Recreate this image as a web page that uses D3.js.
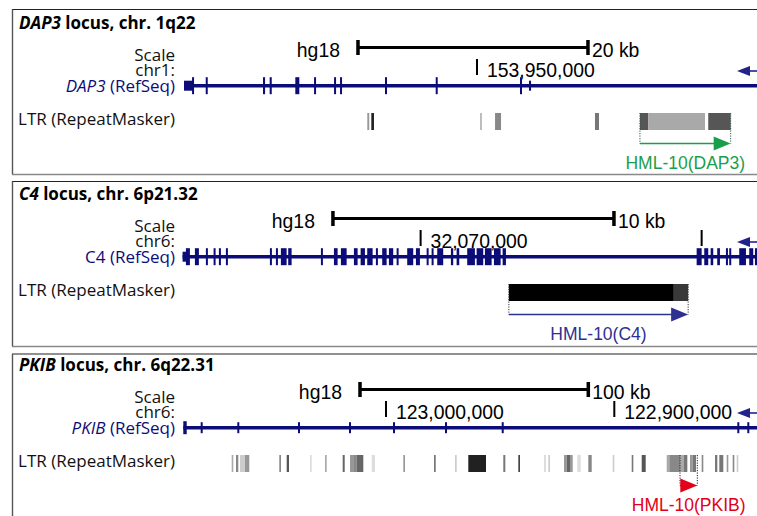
<!DOCTYPE html>
<html>
<head>
<meta charset="utf-8">
<title>HML-10 loci</title>
<script src="https://cdn.jsdelivr.net/npm/d3@7/dist/d3.min.js"></script>
<style>
  body { margin: 0; background: #fff; }
  svg { display: block; }
  .lbl { font-family: "Open Sans", sans-serif; font-size: 17px; fill: #111; }
  .ttl { font-family: "Open Sans", sans-serif; font-size: 17px; font-weight: 700; fill: #000; }
  .num { font-family: "Liberation Sans", Arial, sans-serif; font-size: 19.4px; fill: #000; }
  .hml { font-family: "Liberation Sans", Arial, sans-serif; font-size: 17.5px; }
</style>
</head>
<body>
<div id="chart-area"></div>
<script>
//////////////////////////////////////////////
// Data (genomic positions in kb, hg18) //////
//////////////////////////////////////////////
var loci = ["DAP3", "C4", "PKIB"];
var bands = ["1q22", "6p21.32", "6q22.31"];
var chroms = ["chr1", "chr6", "chr6"];
var italicGene = [true, false, true];

// visible window, left edge -> right edge of the track
var views = [[153924.52, 153974.35], [32061.58, 32081.97], [123088.48, 122837.50]];

var scaleBarKb = [20, 10, 100];
var scaleBarStart = [153939.65, 32066.88, 123011.39];

var posTicks = [[153950], [32070, 32080], [123000, 122900]];
var posLabels = [["153,950,000"], ["32,070,000", ""], ["123,000,000", "122,900,000"]];

var geneSpans = [[153924.52, 153990], [32061.53, 32090], [122800, 123088.79]];

var dap3Exons = [
  [153924.52, 153925.30, "utr"],
  [153925.22, 153925.39, "cds"],
  [153926.41, 153926.58, "cds"],
  [153931.39, 153931.57, "cds"],
  [153931.97, 153932.15, "cds"],
  [153934.20, 153934.55, "cds"],
  [153935.83, 153936.00, "cds"],
  [153937.57, 153937.74, "cds"],
  [153938.09, 153938.26, "cds"],
  [153942.00, 153942.17, "cds"],
  [153946.41, 153946.58, "cds"],
  [153953.74, 153953.91, "cds"],
  [153954.52, 153954.70, "utr"]
];

var c4Exons = [
  [32061.53, 32061.65, "utr"],
  [32061.648, 32061.790, "cds"], [32061.968, 32062.110, "cds"], [32062.359, 32062.420, "cds"],
  [32062.633, 32062.690, "cds"], [32062.822, 32062.883, "cds"], [32063.071, 32063.132, "cds"],
  [32064.637, 32064.698, "cds"], [32064.851, 32064.911, "cds"], [32065.028, 32065.231, "cds"],
  [32065.288, 32065.409, "cds"], [32066.452, 32066.512, "cds"], [32066.915, 32067.046, "cds"],
  [32067.164, 32067.367, "cds"], [32067.626, 32067.758, "cds"], [32067.865, 32068.018, "cds"],
  [32068.100, 32068.292, "cds"], [32068.409, 32068.470, "cds"], [32068.633, 32068.790, "cds"],
  [32068.872, 32069.025, "cds"], [32069.146, 32069.203, "cds"], [32069.523, 32069.737, "cds"],
  [32069.833, 32069.975, "cds"], [32070.214, 32070.270, "cds"], [32070.391, 32070.448, "cds"],
  [32070.591, 32070.804, "cds"], [32071.078, 32071.160, "cds"], [32071.281, 32071.374, "cds"],
  [32071.658, 32071.932, "cds"], [32071.993, 32072.228, "cds"], [32072.288, 32072.527, "cds"],
  [32072.609, 32072.847, "cds"], [32072.918, 32073.036, "cds"],
  [32079.822, 32080.000, "cds"], [32080.093, 32080.235, "cds"], [32080.320, 32080.413, "cds"],
  [32080.555, 32080.651, "cds"], [32080.865, 32080.911, "cds"], [32080.982, 32081.043, "cds"],
  [32081.338, 32081.577, "cds"], [32081.694, 32081.836, "cds"], [32081.897, 32082.100, "cds"]
];

var pkibExons = [
  [123087.30, 123088.79, "cds"],
  [123080.29, 123081.17, "utr"],
  [123064.26, 123065.13, "utr"],
  [123037.67, 123038.55, "utr"],
  [123015.33, 123016.21, "utr"],
  [122996.06, 122996.93, "utr"],
  [122973.28, 122974.16, "utr"],
  [122948.44, 122949.32, "utr"],
  [122845.25, 122846.12, "utr"],
  [122840.87, 122841.74, "utr"]
];

// RepeatMasker LTR hits: start, end, score (shade)
var dap3Ltr = [
  [153940.46, 153940.63, 360], [153940.81, 153941.04, 860],
  [153950.26, 153950.43, 210], [153951.57, 153952.09, 430],
  [153960.26, 153960.61, 500], [153964.17, 153964.90, 640],
  [153964.90, 153969.83, 290], [153970.11, 153972.06, 640]
];

var c4Ltr = [
  [32073.14, 32079.01, 1000], [32079.01, 32079.52, 760]
];

var pkibLtr = [
  [123066.89, 123067.59, 290], [123064.70, 123065.70, 430], [123061.76, 123063.95, 140],
  [123059.88, 123061.76, 360], [123045.99, 123046.74, 430], [123042.49, 123043.50, 640],
  [123032.54, 123033.29, 70],  [123025.97, 123026.72, 290], [123018.09, 123018.97, 570],
  [123014.02, 123015.77, 360], [123012.83, 123014.02, 430], [123009.94, 123012.83, 570],
  [123004.82, 123006.26, 70],  [122991.68, 122992.42, 360], [122978.23, 122978.98, 500],
  [122969.03, 122969.78, 140], [122956.20, 122963.95, 860], [122947.74, 122948.62, 500],
  [122941.31, 122942.05, 710], [122929.92, 122930.79, 70],  [122928.17, 122928.91, 140],
  [122920.85, 122922.03, 360], [122919.40, 122920.85, 570], [122918.22, 122919.40, 360],
  [122914.72, 122916.21, 70],  [122909.90, 122911.39, 430], [122900.00, 122900.70, 140],
  [122891.68, 122892.38, 500], [122886.25, 122888.00, 640], [122875.91, 122877.05, 290],
  [122871.22, 122875.91, 430], [122869.47, 122871.22, 290], [122868.02, 122869.47, 500],
  [122865.66, 122866.84, 360], [122864.21, 122865.66, 500], [122861.02, 122861.72, 430],
  [122854.88, 122855.89, 500], [122852.26, 122854.01, 500], [122850.07, 122850.77, 360],
  [122847.44, 122848.14, 430], [122845.69, 122846.39, 140]
];

var hmlSpans = [[153964.17, 153972.06], [32073.14, 32079.52], [122863.64, 122871.22]];
var hmlNames = ["HML-10(DAP3)", "HML-10(C4)", "HML-10(PKIB)"];

var exonsByLocus = [dap3Exons, c4Exons, pkibExons];
var ltrByLocus = [dap3Ltr, c4Ltr, pkibLtr];

//////////////////////////////////////////////
// Layout ////////////////////////////////////
//////////////////////////////////////////////
var W = 757, H = 516;
var trackRange = [184, 757];
var panelTop = [9.5, 181.5, 354];
var panelBottom = [174.5, 346.5, 530];
var panelDy = [0, 171, 342];
var exonH = [[17, 10], [17, 10], [13, 11]];
var hmlColors = ["#1b9e4b", "#2e3192", "#e2001a"];
var dotColors = ["#2c5a3c", "#333", "#222"];
var navy = "#0c0c78";

var shade = d3.scaleLinear().domain([0, 1000]).range(["#eeeeee", "#000000"]);

var svg = d3.select("#chart-area")
    .append("svg")
    .attr("width", W)
    .attr("height", H);

//////////////////////////////////////////////
// Drawing ///////////////////////////////////
//////////////////////////////////////////////
loci.forEach(function(name, i) {
    var top = panelTop[i];

    // panel frame
    svg.append("line")
        .attr("x1", 12).attr("x2", W).attr("y1", top).attr("y2", top)
        .attr("stroke", "#222").attr("stroke-width", 1.2);
    svg.append("line")
        .attr("x1", 12.5).attr("x2", 12.5).attr("y1", top).attr("y2", panelBottom[i])
        .attr("stroke", "#555").attr("stroke-width", 1.4);
    if (panelBottom[i] < H) {
        svg.append("line")
            .attr("x1", 12).attr("x2", W).attr("y1", panelBottom[i]).attr("y2", panelBottom[i])
            .attr("stroke", "#888").attr("stroke-width", 1.5);
    }

    var g = svg.append("g").attr("transform", "translate(0," + panelDy[i] + ")");
    var x = d3.scaleLinear().domain(views[i]).range(trackRange);
    var dir = views[i][1] > views[i][0] ? 1 : -1;

    // title
    var t = g.append("text").attr("class", "ttl").attr("x", 19).attr("y", 29);
    t.append("tspan").style("font-style", "italic").text(name);
    t.append("tspan").text(" locus, chr. " + bands[i]);

    // track labels
    g.append("text").attr("class", "lbl").attr("x", 175).attr("y", 60.5)
        .attr("text-anchor", "end").text("Scale");
    g.append("text").attr("class", "lbl").attr("x", 175).attr("y", 75.5)
        .attr("text-anchor", "end").text(chroms[i] + ":");
    var gl = g.append("text").attr("class", "lbl").attr("x", 175).attr("y", 91.5)
        .attr("text-anchor", "end").style("fill", navy);
    gl.append("tspan").style("font-style", italicGene[i] ? "italic" : "normal").text(name);
    gl.append("tspan").text(" (RefSeq)");
    g.append("text").attr("class", "lbl").attr("x", 175).attr("y", 124.5)
        .attr("text-anchor", "end").text("LTR (RepeatMasker)");

    // scale bar
    var sb0 = x(scaleBarStart[i]);
    var sb1 = x(scaleBarStart[i] + dir * scaleBarKb[i]);
    g.append("line").attr("x1", sb0).attr("x2", sb1).attr("y1", 47.5).attr("y2", 47.5)
        .attr("stroke", "#000").attr("stroke-width", 3);
    [sb0, sb1].forEach(function(sx) {
        g.append("rect").attr("x", sx - 1.75).attr("y", 40).attr("width", 3.5).attr("height", 15)
            .attr("fill", "#000");
    });
    g.append("text").attr("class", "num").attr("x", sb0 - 18).attr("y", 56.5)
        .attr("text-anchor", "end").text("hg18");
    g.append("text").attr("class", "num").attr("x", sb1 + 4).attr("y", 56.5)
        .text(scaleBarKb[i] + " kb");

    // chromosome position ticks
    posTicks[i].forEach(function(p, k) {
        var px = x(p);
        g.append("rect").attr("x", px - 1).attr("y", 59).attr("width", 2).attr("height", 16)
            .attr("fill", "#000");
        if (posLabels[i][k]) {
            g.append("text").attr("class", "num").attr("x", px + 10).attr("y", 77)
                .text(posLabels[i][k]);
        }
    });

    // gene model
    var geneY = 85.7;
    var gx = geneSpans[i].map(x);
    g.append("line")
        .attr("x1", d3.min(gx)).attr("x2", d3.max(gx))
        .attr("y1", geneY).attr("y2", geneY)
        .attr("stroke", navy).attr("stroke-width", 3.6);

    g.selectAll(".exon")
        .data(exonsByLocus[i])
        .enter().append("rect")
        .attr("class", "exon")
        .attr("x", function(d) { return Math.min(x(d[0]), x(d[1])); })
        .attr("width", function(d) { return Math.max(2, Math.abs(x(d[1]) - x(d[0]))); })
        .attr("y", function(d) { var h = d[2] === "cds" ? exonH[i][0] : exonH[i][1]; return geneY - h / 2; })
        .attr("height", function(d) { return d[2] === "cds" ? exonH[i][0] : exonH[i][1]; })
        .attr("fill", navy);

    // strand arrow at right edge
    var ay = 71;
    g.append("path")
        .attr("d", "M737," + ay + "L750," + (ay - 5) + "L750," + (ay + 5) + "Z")
        .attr("fill", "#22228c");
    g.append("line").attr("x1", 749).attr("x2", W).attr("y1", ay).attr("y2", ay)
        .attr("stroke", "#22228c").attr("stroke-width", 1.6);

    // LTR repeats
    g.selectAll(".ltr")
        .data(ltrByLocus[i])
        .enter().append("rect")
        .attr("class", "ltr")
        .attr("x", function(d) { return Math.min(x(d[0]), x(d[1])); })
        .attr("width", function(d) { return Math.max(1.6, Math.abs(x(d[1]) - x(d[0]))); })
        .attr("y", 113)
        .attr("height", 17)
        .attr("fill", function(d) { return shade(d[2]); });

    // HML-10 element annotation
    var hx = hmlSpans[i].map(x);
    var h0 = d3.min(hx), h1 = d3.max(hx);
    var arrowY = 143.5;
    [h0, h1].forEach(function(hxx) {
        g.append("line").attr("x1", hxx).attr("x2", hxx).attr("y1", 113).attr("y2", arrowY)
            .attr("stroke", dotColors[i]).attr("stroke-width", 1)
            .attr("stroke-dasharray", "1.2,1.3");
    });
    g.append("line").attr("x1", h0).attr("x2", h1 - 14).attr("y1", arrowY).attr("y2", arrowY)
        .attr("stroke", hmlColors[i]).attr("stroke-width", 1.6);
    g.append("path")
        .attr("d", "M" + h1 + "," + arrowY + "L" + (h1 - 17) + "," + (arrowY - 7) +
                   "L" + (h1 - 17) + "," + (arrowY + 7) + "Z")
        .attr("fill", hmlColors[i]);
    g.append("text").attr("class", "hml")
        .attr("x", (h0 + h1) / 2).attr("y", 168.5)
        .attr("text-anchor", "middle")
        .style("fill", hmlColors[i])
        .text(hmlNames[i]);
});
</script>
</body>
</html>
